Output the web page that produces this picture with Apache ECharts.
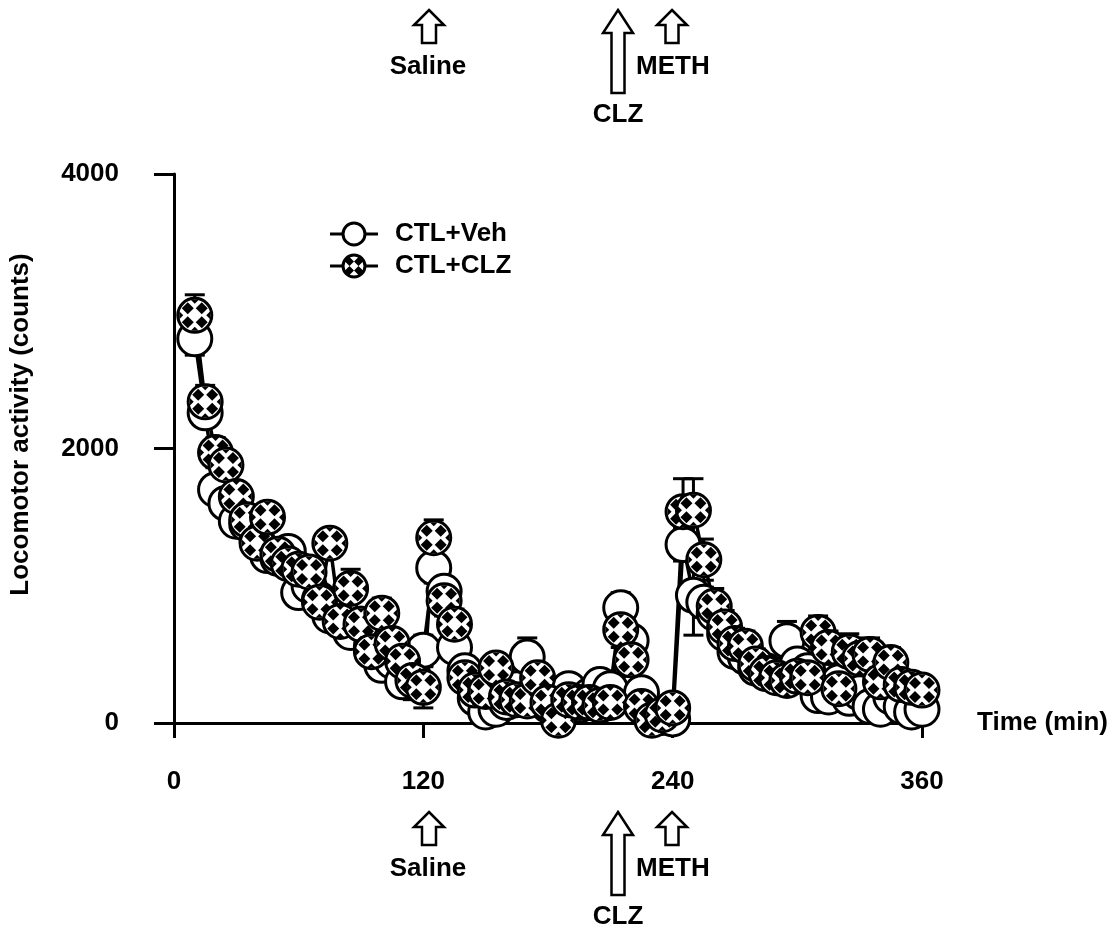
<!DOCTYPE html>
<html>
<head>
<meta charset="utf-8">
<script src="https://cdn.jsdelivr.net/npm/echarts@6/dist/echarts.min.js"></script>
<style>
  html, body { margin: 0; padding: 0; background: #fff; }
  #chart { width: 1114px; height: 928px; }
</style>
</head>
<body>
<div id="chart"></div>
<script>
// ---- data (5-min bins, minutes) ----
const times = [10,15,20,25,30,35,40,45,50,55,60,65,70,75,80,85,90,95,100,105,110,115,120,
  125,130,135,140,145,150,155,160,165,170,175,180,185,190,195,200,205,210,215,220,225,230,235,240,
  245,250,255,260,265,270,275,280,285,290,295,300,305,310,315,320,325,330,335,340,345,350,355,360];

const vehMean = [2800,2260,1700,1600,1470,1450,1330,1220,1200,1250,950,1000,900,780,820,660,720,560,420,450,300,350,530,
  1130,960,550,380,180,80,100,150,250,480,200,130,200,250,130,200,280,250,840,600,220,60,40,30,
  1300,930,880,800,650,520,480,400,380,350,600,430,380,200,190,300,180,220,120,100,190,120,80,100];
const vehSem = [120,100,100,90,90,90,90,90,90,90,90,90,90,90,90,90,90,90,90,90,90,90,110,
  110,100,100,90,80,80,80,80,80,140,80,80,80,80,80,80,80,80,110,100,80,60,60,60,
  120,290,110,100,100,90,90,90,90,90,140,90,90,80,80,80,80,80,80,80,80,80,80,80];

const clzMean = [2970,2340,1970,1880,1650,1480,1310,1500,1230,1160,1120,1100,880,1310,740,980,720,520,800,580,450,310,260,
  1350,890,720,330,240,230,400,190,170,160,330,150,20,170,150,150,130,150,680,460,120,20,60,110,
  1540,1550,1190,850,700,580,560,430,360,330,310,340,330,660,550,250,520,470,500,300,440,280,260,240];
const clzSem = [150,120,110,100,100,100,100,100,100,100,100,100,100,100,100,140,100,100,110,100,100,140,150,
  130,110,110,100,100,100,100,100,100,100,100,100,100,100,100,100,100,100,130,120,100,100,100,100,
  240,230,150,130,120,110,110,110,100,100,100,100,100,120,120,100,130,110,120,100,110,100,100,100];

const xTicks = [0, 120, 240, 360];
const yTicks = [0, 2000, 4000];

// ---- build ----
const vehPts = times.map((t, i) => [t, vehMean[i], vehSem[i]]);
const clzPts = times.map((t, i) => [t, clzMean[i], clzSem[i]]);

const FONT = 'Liberation Sans, Arial, Helvetica, sans-serif';
const FS = 26;

function errRender(params, api) {
  const x = api.value(0), m = api.value(1), e = api.value(2);
  const top = api.coord([x, m + e]);
  const bot = api.coord([x, Math.max(0, m - e)]);
  const c = 10;
  return {
    type: 'group',
    children: [
      { type: 'line', shape: { x1: top[0], y1: top[1], x2: bot[0], y2: bot[1] }, style: { stroke: '#000', lineWidth: 3 } },
      { type: 'line', shape: { x1: top[0] - c, y1: top[1], x2: top[0] + c, y2: top[1] }, style: { stroke: '#000', lineWidth: 3 } },
      { type: 'line', shape: { x1: bot[0] - c, y1: bot[1], x2: bot[0] + c, y2: bot[1] }, style: { stroke: '#000', lineWidth: 3 } }
    ]
  };
}

function diamond(cx, cy, h) {
  return { type: 'polygon', shape: { points: [[cx, cy - h], [cx + h, cy], [cx, cy + h], [cx - h, cy]] }, style: { fill: '#000' } };
}

function clzRender(params, api) {
  const p = api.coord([api.value(0), api.value(1)]);
  const cx = p[0], cy = p[1];
  const kids = [{ type: 'circle', shape: { cx: cx, cy: cy, r: 17 }, style: { fill: '#fff', stroke: '#000', lineWidth: 3 } }];
  [[-7, -7], [7, -7], [-7, 7], [7, 7]].forEach(d => kids.push(diamond(cx + d[0], cy + d[1], 6)));
  // edge notches of the tiled pattern
  kids.push({ type: 'polygon', shape: { points: [[cx - 4, cy - 15.5], [cx + 4, cy - 15.5], [cx, cy - 11.5]] }, style: { fill: '#000' } });
  kids.push({ type: 'polygon', shape: { points: [[cx - 4, cy + 15.5], [cx + 4, cy + 15.5], [cx, cy + 11.5]] }, style: { fill: '#000' } });
  kids.push({ type: 'polygon', shape: { points: [[cx - 15.5, cy - 4], [cx - 15.5, cy + 4], [cx - 11.5, cy]] }, style: { fill: '#000' } });
  kids.push({ type: 'polygon', shape: { points: [[cx + 15.5, cy - 4], [cx + 15.5, cy + 4], [cx + 11.5, cy]] }, style: { fill: '#000' } });
  return { type: 'group', children: kids };
}

// legend icons ("-O-")
const ring = 'M11.5 12.5 A12.5 12.5 0 1 1 36.5 12.5 A12.5 12.5 0 1 1 11.5 12.5 Z ' +
             'M14.5 12.5 A9.5 9.5 0 1 0 33.5 12.5 A9.5 9.5 0 1 0 14.5 12.5 Z ' +
             'M0 11 L11.7 11 L11.7 14 L0 14 Z M36.3 11 L48 11 L48 14 L36.3 14 Z';
const dots = ' M19.5 3.5 L24 8 L19.5 12.5 L15 8 Z M28.5 3.5 L33 8 L28.5 12.5 L24 8 Z' +
             ' M19.5 12.5 L24 17 L19.5 21.5 L15 17 Z M28.5 12.5 L33 17 L28.5 21.5 L24 17 Z';
const vehIcon = 'path://' + ring;
const clzIcon = 'path://' + ring + dots;

// annotation arrows
function arrow(cx, tip, headBase, bottom, hw, sw) {
  return {
    type: 'polygon',
    shape: { points: [[cx, tip], [cx + hw, headBase], [cx + sw, headBase], [cx + sw, bottom], [cx - sw, bottom], [cx - sw, headBase], [cx - hw, headBase]] },
    style: { fill: '#fff', stroke: '#000', lineWidth: 2.5 }
  };
}
function label(txt, x, y, align) {
  return { type: 'text', x: x, y: y, style: { text: txt, font: 'bold ' + FS + 'px ' + FONT, fill: '#000', align: align || 'center', verticalAlign: 'middle' } };
}
const gfx = [];
[0, 802].forEach(off => {
  gfx.push(arrow(429, 10 + off, 25 + off, 43 + off, 15, 7));
  gfx.push(arrow(618, 10 + off, 33 + off, 93 + off, 15, 6.5));
  gfx.push(arrow(672, 10 + off, 25 + off, 43 + off, 15, 6.5));
  gfx.push(label('Saline', 428, 67 + off));
  gfx.push(label('METH', 636, 67 + off, 'left'));
  gfx.push(label('CLZ', 618, 115 + off));
});

const chart = echarts.init(document.getElementById('chart'), null, { renderer: 'canvas' });
chart.setOption({
  animation: false,
  backgroundColor: '#fff',
  textStyle: { fontFamily: FONT },
  grid: { left: 172, right: 192, top: 174, bottom: 205, containLabel: false },
  legend: {
    orient: 'vertical', left: 325, top: 216, itemWidth: 48, itemHeight: 25, itemGap: 6,
    textStyle: { fontFamily: FONT, fontWeight: 'bold', fontSize: FS, color: '#000', padding: [0, 0, 0, 12] },
    data: [
      { name: 'CTL+Veh', icon: vehIcon, itemStyle: { color: '#000', borderWidth: 0 } },
      { name: 'CTL+CLZ', icon: clzIcon, itemStyle: { color: '#000', borderWidth: 0 } }
    ],
    selectedMode: false
  },
  xAxis: {
    type: 'value', min: xTicks[0], max: xTicks[xTicks.length - 1], interval: 120,
    name: 'Time (min)', nameLocation: 'end', nameGap: 55,
    nameTextStyle: { fontFamily: FONT, fontWeight: 'bold', fontSize: FS, color: '#000', padding: [16, 0, 0, 0] },
    axisLine: { show: true, onZero: false, lineStyle: { color: '#000', width: 3 } },
    axisTick: { show: true, length: 15, lineStyle: { color: '#000', width: 3 } },
    axisLabel: { margin: 46, fontFamily: FONT, fontWeight: 'bold', fontSize: FS, color: '#000', formatter: v => String(v) },
    splitLine: { show: false }
  },
  yAxis: {
    type: 'value', min: yTicks[0], max: yTicks[yTicks.length - 1], interval: 2000,
    name: 'Locomotor activity (counts)', nameLocation: 'middle', nameGap: 140, nameRotate: 90,
    nameTextStyle: { fontFamily: FONT, fontWeight: 'bold', fontSize: FS, color: '#000', padding: [0, 0, 0, 48] },
    axisLine: { show: true, lineStyle: { color: '#000', width: 3 } },
    axisTick: { show: true, length: 20, lineStyle: { color: '#000', width: 3 } },
    axisLabel: { margin: 55, fontFamily: FONT, fontWeight: 'bold', fontSize: FS, color: '#000', formatter: v => String(v) },
    splitLine: { show: false }
  },
  graphic: gfx,
  series: [
    { name: 'CTL+Veh', type: 'line', data: vehPts, showSymbol: false, symbol: 'none', z: 1,
      lineStyle: { color: '#000', width: 3.5 }, itemStyle: { color: '#000' } },
    { name: 'CTL+CLZ', type: 'line', data: clzPts, showSymbol: false, symbol: 'none', z: 1,
      lineStyle: { color: '#000', width: 3.5 }, itemStyle: { color: '#000' } },
    { name: 'CTL+Veh', type: 'custom', renderItem: errRender, data: vehPts, z: 2, clip: false },
    { name: 'CTL+CLZ', type: 'custom', renderItem: errRender, data: clzPts, z: 2, clip: false },
    { name: 'CTL+Veh', type: 'scatter', data: vehPts, symbol: 'circle', symbolSize: 34, z: 3,
      itemStyle: { color: '#fff', borderColor: '#000', borderWidth: 3, opacity: 1 } },
    { name: 'CTL+CLZ', type: 'custom', renderItem: clzRender, data: clzPts, z: 4, clip: false }
  ]
});
</script>
</body>
</html>
